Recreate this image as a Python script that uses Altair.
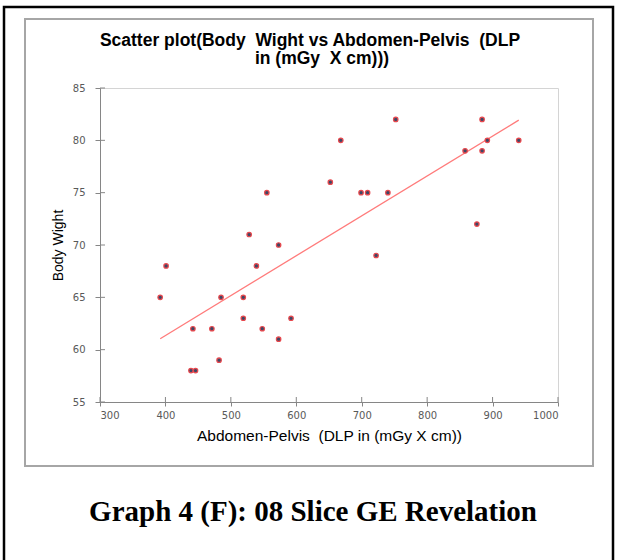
import altair as alt
import pandas as pd

# ---- data ----
dlp = [392, 401, 439, 442, 446, 471, 482, 485, 519, 519, 528, 539, 548, 555,
       573, 573, 592, 652, 668, 699, 709, 722, 740, 752, 858, 876, 884, 884,
       892, 940]
weight = [65, 68, 58, 62, 58, 62, 59, 65, 65, 63, 71, 68, 62, 75,
          70, 61, 63, 76, 80, 75, 75, 69, 75, 82, 79, 72, 82, 79,
          80, 80]

x_ticks = [300, 400, 500, 600, 700, 800, 900, 1000]
y_ticks = [55, 60, 65, 70, 75, 80, 85]

title_line1 = "Scatter plot(Body\u00a0 Wight vs Abdomen-Pelvis\u00a0 (DLP"
title_line2 = "in (mGy\u00a0 X cm)))"
x_title = "Abdomen-Pelvis\u00a0 (DLP in (mGy X cm))"
y_title = "Body Wight"
caption = "Graph 4 (F): 08 Slice GE Revelation"

df = pd.DataFrame({"dlp": dlp, "weight": weight})
frame_df = pd.DataFrame({"k": [0]})
xtick_df = pd.DataFrame({"dlp": x_ticks})
ytick_df = pd.DataFrame({"weight": y_ticks})

AX_GRAY = "#868686"
LBL_GRAY = "#595959"

x_enc = alt.X(
    "dlp:Q",
    scale=alt.Scale(domain=[300, 1000], nice=False, zero=False),
    axis=alt.Axis(
        values=x_ticks, format="d", title=x_title, grid=False,
        labelFont="DejaVu Sans", labelFontSize=10, labelColor=LBL_GRAY,
        labelPadding=4, tickSize=4, tickColor=AX_GRAY, domainColor=AX_GRAY,
        titleFont="Liberation Sans", titleFontSize=15.5, titleFontWeight="normal",
        titleColor="black", titlePadding=8,
    ),
)
y_enc = alt.Y(
    "weight:Q",
    scale=alt.Scale(domain=[55, 85], nice=False, zero=False),
    axis=alt.Axis(
        values=y_ticks, title=y_title, grid=False,
        labelFont="DejaVu Sans", labelFontSize=10, labelColor=LBL_GRAY,
        labelPadding=10, tickSize=5, tickColor=AX_GRAY, domainColor=AX_GRAY,
        titleFont="Liberation Sans", titleFontSize=14, titleFontWeight="normal",
        titleColor="black", titlePadding=7,
    ),
)

outer = alt.Chart(frame_df).mark_rect(
    fillOpacity=0, stroke="black", strokeWidth=2.5
).encode(x=alt.value(-96), x2=alt.value(513), y=alt.value(-81), y2=alt.value(476))

inner = alt.Chart(frame_df).mark_rect(
    fillOpacity=0, stroke="#a6a6a6", strokeWidth=2
).encode(x=alt.value(-75), x2=alt.value(493), y=alt.value(-69), y2=alt.value(378))

# inner halves of the "cross" tick marks
xticks_in = alt.Chart(xtick_df).mark_rule(color=AX_GRAY, strokeWidth=1).encode(
    x=x_enc, y=alt.value(309), y2=alt.value(314))
yticks_in = alt.Chart(ytick_df).mark_rule(color=AX_GRAY, strokeWidth=1).encode(
    y=y_enc, x=alt.value(0), x2=alt.value(5))

trend = alt.Chart(df).transform_regression("dlp", "weight").mark_line(
    color="#ff7b7b", strokeWidth=1.3
).encode(x=x_enc, y=y_enc)

points = alt.Chart(df).mark_point(
    shape="circle", filled=True, size=20, fill="#3f4766",
    stroke="#e8484d", strokeWidth=1.2, opacity=1
).encode(x=x_enc, y=y_enc)

title_style = dict(font="Liberation Sans", fontSize=17.5, fontWeight="bold",
                   color="black", align="center", baseline="middle")
t1 = alt.Chart(frame_df).mark_text(**title_style).encode(
    x=alt.value(210), y=alt.value(-47), text=alt.value(title_line1))
t2 = alt.Chart(frame_df).mark_text(**title_style).encode(
    x=alt.value(222), y=alt.value(-29), text=alt.value(title_line2))

cap = alt.Chart(frame_df).mark_text(
    font="Liberation Serif", fontSize=29, fontWeight="bold", color="black",
    align="center", baseline="middle"
).encode(x=alt.value(213), y=alt.value(424), text=alt.value(caption))

chart = alt.layer(outer, inner, xticks_in, yticks_in, trend, points, t1, t2, cap).properties(
    width=458,
    height=314,
    autosize=alt.AutoSizeParams(type="none"),
    padding={"left": 100, "top": 88, "right": 60, "bottom": 158},
    background="white",
).configure_view(stroke="#d4d4d4", strokeWidth=1)

chart.save("out.html", embed_options={"renderer": "svg", "actions": False})
